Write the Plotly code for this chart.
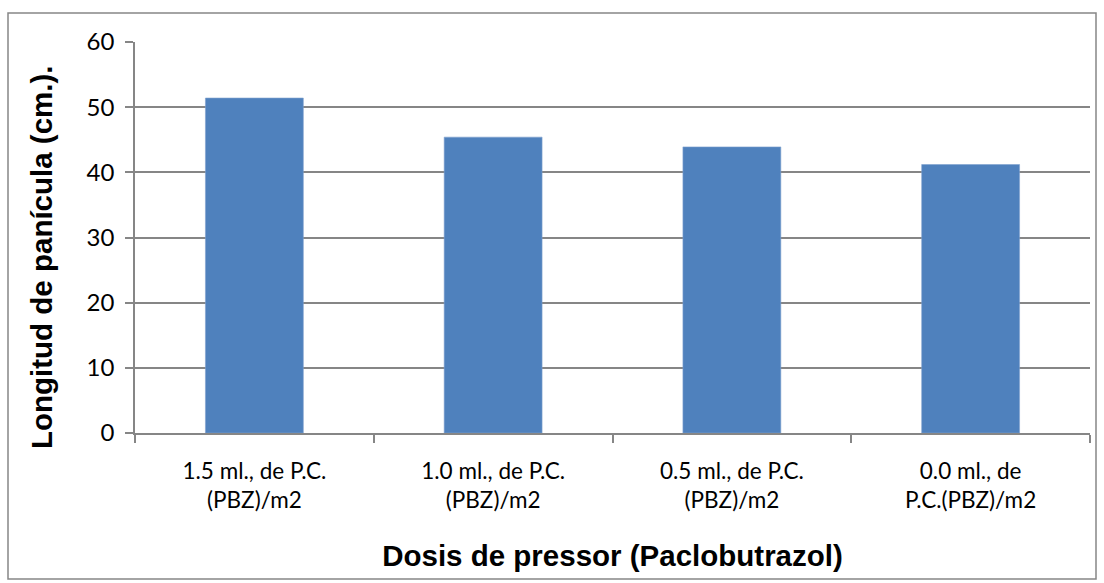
import plotly.graph_objects as go

categories = [
    "1.5 ml., de P.C.<br>(PBZ)/m2",
    "1.0 ml., de P.C.<br>(PBZ)/m2",
    "0.5 ml., de P.C.<br>(PBZ)/m2",
    "0.0 ml., de<br>P.C.(PBZ)/m2",
]
values = [51.4, 45.4, 43.9, 41.2]
y_ticks = [0, 10, 20, 30, 40, 50, 60]
x_title = "Dosis de pressor (Paclobutrazol)"
y_title = "Longitud de panícula (cm.)."

W, H = 1104, 583
L, R, T, B = 135, 14, 42, 150
pw, ph = W - L - R, H - T - B

fig = go.Figure(go.Bar(
    x=categories, y=values,
    marker=dict(color="#4F81BD", line=dict(color="#7FA1CF", width=0.6)),
    width=0.41,
))

grid_col = "#868686"
title_font = dict(size=29.5, family="Liberation Sans, Arial, sans-serif", color="#000")
fig.update_layout(
    width=W, height=H,
    margin=dict(l=L, r=R, t=T, b=B),
    paper_bgcolor="white", plot_bgcolor="white",
    showlegend=False,
    font=dict(family="Lato, sans-serif", color="#000000"),
    xaxis=dict(
        showline=True, linecolor=grid_col, linewidth=1.5,
        ticks="outside", ticklen=8, tickcolor=grid_col, tickwidth=1.5,
        tickson="boundaries",
        ticklabelstandoff=17,
        tickfont=dict(size=22.5, family="Lato, sans-serif", color="#000"),
        title=dict(text=f"<b>{x_title}</b>", font=title_font, standoff=33),
        showgrid=False,
    ),
    yaxis=dict(
        range=[0, 60], tickvals=y_ticks,
        showline=True, linecolor=grid_col, linewidth=1.5,
        ticks="outside", ticklen=8, tickcolor=grid_col, tickwidth=1.5,
        ticklabelstandoff=6,
        showgrid=True, gridcolor=grid_col, gridwidth=1.5,
        zeroline=False,
        tickfont=dict(size=24, family="Lato, sans-serif", color="#000"),
    ),
    annotations=[dict(
        text=f"<b>{y_title}</b>", textangle=-90,
        xref="paper", yref="paper",
        x=(41 - L) / pw, y=(H - B - 257) / ph,
        xanchor="center", yanchor="middle", showarrow=False,
        font=title_font,
    )],
    shapes=[dict(
        type="rect", xref="paper", yref="paper",
        x0=(8 - L) / pw, x1=(1096 - L) / pw,
        y0=(H - B - 579) / ph, y1=(H - B - 13) / ph,
        line=dict(color="#868686", width=1.5), fillcolor="rgba(0,0,0,0)",
        layer="below",
    )],
)

fig.write_html("out.html")
